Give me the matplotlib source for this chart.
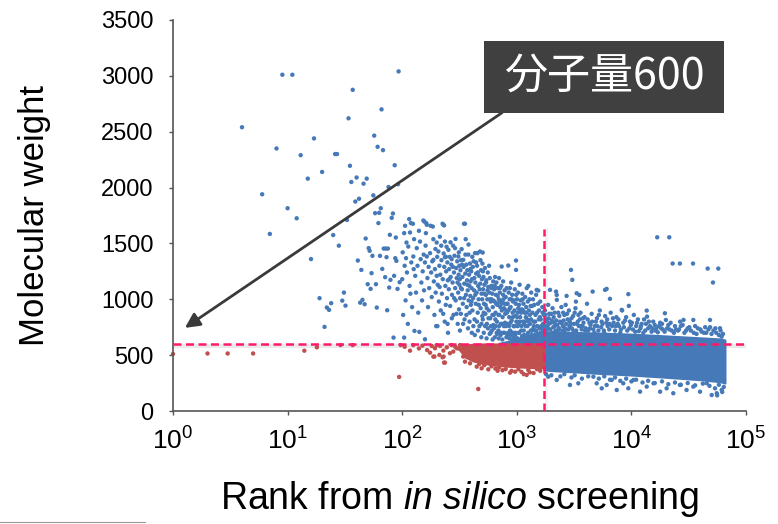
import matplotlib
matplotlib.use("Agg")
import matplotlib.pyplot as plt
from matplotlib.lines import Line2D
from matplotlib.patches import Rectangle
import numpy as np

plt.rcParams['font.family'] = ['Liberation Sans', 'DejaVu Sans']
plt.rcParams['mathtext.fontset'] = 'custom'
plt.rcParams['mathtext.rm'] = 'Liberation Sans'
plt.rcParams['mathtext.it'] = 'Liberation Sans:italic'

# screening cut-offs
rank_cutoff = 1727
mw_cutoff = 600

# (rank, molecular weight) of the compounds that stand out on their own
top_ranked = [
    (1, 510), (2, 515), (3, 515), (4, 2540), (5, 515), (6, 1940), (7, 1585), (8, 2350),
    (9, 3010), (10, 1815), (11, 3010), (12, 1725), (13, 2290), (14, 540), (15, 2080),
    (16, 1360), (17, 2440), (18, 570), (19, 1010), (20, 2140), (21, 753), (22, 926),
    (23, 905), (24, 965), (25, 1575), (26, 2300), (27, 2300), (28, 1480), (29, 590),
    (30, 988), (31, 1060), (32, 943), (33, 1710), (34, 2620), (35, 2195), (36, 2050),
    (37, 2875), (37, 590), (39, 1875), (40, 2090), (41, 1347), (42, 1900), (43, 970),
    (44, 1263), (45, 995), (46, 2035), (47, 956), (48, 1544), (49, 2080), (50, 1135),
    (51, 1458), (52, 1434), (53, 1093), (54, 1234), (55, 1389), (56, 1930), (57, 2465),
    (58, 1771), (59, 1135), (60, 926), (61, 2365), (62, 1682), (63, 1774), (64, 1389),
    (65, 1815), (66, 2700), (67, 1272), (68, 2335), (69, 1454), (71, 1198), (72, 1454),
    (73, 1377), (74, 902), (75, 1454), (76, 2005), (77, 1105), (78, 1577), (79, 1174),
    (81, 1729), (83, 1768), (84, 657), (85, 1210), (86, 2200), (87, 1368), (88, 1553),
    (89, 1344), (91, 1093), (92, 2030), (93, 3040), (94, 305), (95, 1153), (97, 590),
]

# ranks 100 - 1727, MW above 600
upper_cloud = [
    (100, 1180), (101, 1420), (102, 860), (104, 1592), (104, 657), (105, 1300), (106, 1658),
    (107, 990), (108, 1368), (109, 1508), (110, 1240), (112, 780), (113, 1472), (115, 1718),
    (116, 1120), (117, 1598), (118, 1050), (119, 1682), (120, 1330), (122, 930), (124, 1676),
    (125, 1383), (126, 1270),
    (127, 1538), (128, 717), (130, 1210), (132, 1060), (134, 1458), (136, 1300), (138, 880),
    (140, 1613), (141, 708), (143, 1517), (145, 1359), (147, 1150), (149, 990), (151, 1250),
    (153, 1705), (154, 1400), (155, 1080), (156, 1696), (158, 642), (158, 1330),
    (160, 1480), (161, 1592), (162, 1682), (164, 1667), (164, 1383), (166, 1190), (168, 930),
    (170, 1290), (172, 1100), (175, 1413), (177, 1658), (179, 1240), (181, 1020), (183, 1340),
    (185, 1651), (187, 1538), (187, 1353), (189, 1160), (191, 860), (193, 1270), (195, 1450),
    (196, 1060), (198, 760), (200, 1508), (200, 1210),
    (202, 1380), (203, 760), (204, 1130), (207, 1428), (209, 980), (211, 1300), (212, 1110),
    (213, 1560), (215, 1220), (217, 900), (219, 1480), (220, 1350), (222, 1050), (225, 1676),
    (226, 1180), (228, 870), (229, 1667), (230, 1410), (232, 1661), (233, 1290), (235, 800),
    (236, 1517), (236, 1377), (238, 1120), (240, 950), (241, 1380), (242, 1250), (244, 1470),
    (246, 1010), (248, 1330), (249, 780), (250, 1170), (251, 700),
    (253, 1443), (255, 1090), (257, 1270), (258, 1180), (260, 1380), (262, 940), (264, 1510),
    (265, 1200), (268, 1310), (270, 1359), (271, 830), (272, 1040), (275, 1150), (277, 1290),
    (278, 1480), (280, 860), (283, 1240), (284, 1010), (286, 1390), (289, 1458), (290, 1100),
    (292, 1540), (293, 990), (296, 1280), (298, 870), (299, 1190), (302, 1340), (304, 1150),
    (305, 780), (308, 1060), (309, 1383), (311, 1220), (312, 1420), (313, 910), (315, 1300),
    (316, 1130),
    (318, 1180), (319, 720), (320, 1010), (322, 1260), (325, 870), (326, 1100), (327, 1350),
    (330, 1449), (332, 1090), (333, 1310), (335, 1200), (338, 960), (340, 780), (341, 1353),
    (343, 1290), (346, 1676), (347, 1010), (348, 1140), (350, 820), (353, 1676), (355, 1230),
    (356, 1400), (358, 1538), (360, 1040), (362, 1310), (363, 860), (365, 930), (368, 1170),
    (370, 1260), (371, 1130), (373, 1080), (375, 740), (378, 1400), (379, 1490), (380, 990),
    (383, 1220), (386, 1120), (387, 800), (388, 880), (390, 1320), (393, 1030), (394, 1270),
    (395, 1160), (397, 950),
    (400, 1250), (402, 980), (403, 1100), (405, 700), (406, 1180), (409, 1380), (410, 900),
    (413, 1290), (416, 1010), (418, 760), (420, 1340), (424, 1080), (426, 1190), (428, 820),
    (430, 680), (432, 1413), (434, 1040), (435, 1150), (438, 960), (441, 1330), (442, 1230),
    (446, 1060), (449, 800), (450, 1300), (453, 1413), (456, 880), (457, 1240), (458, 720),
    (460, 1120), (464, 1000), (466, 950), (468, 1210), (472, 760), (474, 1090), (477, 1428),
    (480, 1140), (482, 1350), (484, 920), (488, 1260), (490, 660), (491, 780), (492, 1050),
    (496, 1180), (499, 1000), (500, 850), (501, 1320),
    (504, 1418), (505, 820), (506, 1250), (508, 1090), (512, 1200), (514, 880), (515, 700),
    (517, 960), (521, 1050), (522, 1130), (527, 1280), (529, 760), (532, 870), (535, 950),
    (537, 1040), (539, 1150), (542, 1170), (545, 650), (547, 920), (548, 780), (553, 1000),
    (556, 1080), (558, 1240), (560, 740), (564, 1110), (566, 830), (570, 900), (573, 1300),
    (575, 1060), (580, 690), (581, 1190), (584, 1000), (587, 830), (591, 700), (593, 980),
    (595, 760), (599, 1120), (600, 1000), (603, 1100), (605, 720), (611, 1050), (613, 860),
    (615, 640), (617, 930), (621, 990), (623, 1160), (625, 770), (629, 860),
    (632, 740), (635, 1090), (640, 980), (642, 1120), (643, 660), (646, 1200), (650, 820),
    (652, 880), (655, 760), (658, 1040), (661, 960), (664, 1150), (668, 700), (671, 800),
    (673, 690), (677, 950), (681, 1030), (684, 1100), (690, 720), (692, 860), (695, 650),
    (697, 1000), (700, 1190), (702, 760), (704, 860), (705, 980), (711, 1060), (714, 1100),
    (718, 930), (722, 680), (725, 780), (728, 700), (732, 1120), (736, 960), (738, 1293),
    (740, 900), (745, 980), (748, 640), (750, 780), (752, 840), (760, 1040), (760, 1160),
    (763, 1000), (767, 700), (772, 760), (775, 920), (778, 700), (782, 1080), (785, 960),
    (790, 790), (792, 870),
    (800, 1020), (804, 760), (808, 900), (812, 660), (816, 1100), (818, 960), (820, 880),
    (824, 780), (830, 680), (832, 960), (838, 700), (843, 1302), (846, 900), (850, 1060),
    (855, 760), (858, 840), (862, 650), (866, 1000), (870, 920), (870, 1100), (875, 720),
    (880, 790), (884, 930), (890, 680), (893, 1150), (897, 1000), (902, 810), (908, 700),
    (911, 1040), (915, 640), (920, 880), (922, 840), (925, 980), (930, 700), (936, 760),
    (940, 990), (945, 660), (950, 760), (955, 900), (960, 1090), (965, 760), (968, 680),
    (970, 850), (975, 700), (980, 960), (984, 1347), (985, 1263), (988, 1040), (992, 800),
    (998, 650),
    (1005, 1000), (1010, 650), (1012, 840), (1015, 880), (1020, 760), (1025, 1060),
    (1030, 920), (1035, 780), (1040, 700), (1046, 950), (1050, 700), (1058, 1130),
    (1062, 800), (1065, 900), (1070, 840), (1075, 640), (1082, 990), (1088, 880),
    (1094, 720), (1100, 760), (1106, 910), (1110, 670), (1118, 1050), (1125, 1000),
    (1130, 800), (1136, 900), (1143, 960), (1150, 720), (1156, 680), (1160, 780),
    (1169, 880), (1175, 800), (1182, 1020), (1190, 650), (1195, 760), (1200, 840),
    (1208, 930), (1215, 880), (1221, 1100), (1230, 680), (1234, 820), (1240, 760),
    (1247, 980), (1255, 700),
    (1260, 1120), (1265, 800), (1270, 660), (1275, 900), (1290, 1000), (1298, 860),
    (1305, 780), (1310, 640), (1320, 940), (1325, 720), (1330, 820), (1336, 1060),
    (1350, 680), (1352, 720), (1360, 940), (1368, 880), (1385, 1000), (1390, 650),
    (1395, 740), (1402, 800), (1410, 760), (1420, 950), (1430, 720), (1438, 680),
    (1445, 800), (1456, 860), (1470, 660), (1474, 1040), (1480, 720), (1490, 1084),
    (1500, 880), (1510, 760), (1520, 690), (1530, 960), (1540, 1078), (1555, 820),
    (1560, 900), (1570, 650), (1580, 740), (1590, 840), (1600, 980), (1610, 700),
    (1620, 820), (1630, 760), (1645, 700), (1660, 640), (1670, 930), (1680, 880),
    (1690, 720), (1695, 780), (1700, 740), (1710, 680), (1720, 860),
]

# ranks beyond the cut-off, MW above the packed band
upper_tail = [
    (1750, 760), (1760, 900), (1775, 860), (1790, 720), (1800, 820), (1815, 740),
    (1830, 800), (1850, 760), (1870, 740), (1880, 950), (1900, 830), (1910, 780),
    (1920, 870), (1950, 1084), (1960, 730), (1980, 790), (1995, 870), (2020, 810),
    (2050, 920), (2060, 700), (2080, 750), (2100, 840), (2120, 790), (2140, 880),
    (2150, 760), (2180, 720), (2200, 1069), (2210, 810), (2230, 1039), (2235, 995),
    (2260, 770), (2280, 720), (2300, 880), (2330, 740), (2350, 850), (2380, 800),
    (2420, 790), (2450, 930), (2470, 790), (2490, 720), (2520, 760), (2540, 880),
    (2560, 810), (2600, 860), (2620, 720), (2640, 740), (2670, 950), (2700, 780),
    (2720, 1030), (2750, 870), (2780, 820), (2820, 730), (2850, 900), (2880, 760),
    (2900, 800), (2950, 780), (2970, 1263), (3000, 830), (3020, 740), (3050, 1174),
    (3100, 850), (3120, 720), (3150, 780), (3200, 880), (3250, 920), (3280, 979),
    (3300, 720), (3330, 1054), (3350, 780), (3400, 800), (3450, 860), (3480, 760),
    (3510, 1039), (3550, 820), (3600, 880), (3620, 760), (3680, 730), (3750, 760),
    (3780, 830), (3820, 790), (3900, 840), (3950, 720), (4000, 740), (4100, 960),
    (4150, 820), (4200, 720), (4300, 790), (4350, 740), (4400, 770), (4500, 870),
    (4550, 800), (4590, 1069), (4650, 730), (4750, 700), (4800, 760), (4900, 800),
    (5000, 830), (5050, 760), (5150, 720), (5200, 860), (5300, 900), (5450, 750),
    (5500, 800), (5600, 780), (5750, 720), (5800, 700), (5890, 1084), (5900, 850),
    (6050, 790), (6080, 1093), (6150, 820), (6200, 760), (6400, 730), (6450, 780),
    (6500, 1004), (6600, 880), (6800, 760), (6900, 830), (7000, 790), (7200, 720),
    (7300, 760), (7400, 840), (7600, 780), (7700, 820), (7800, 760), (8000, 700),
    (8100, 730), (8230, 905), (8300, 900), (8500, 790), (8600, 750), (8800, 810),
    (9000, 840), (9200, 720), (9400, 1046), (9500, 941), (9600, 740), (9700, 800),
    (9900, 770), (10100, 790), (10300, 730), (10500, 860), (10800, 710), (11000, 760),
    (11200, 790), (11400, 820), (11600, 715), (12000, 740), (12100, 760), (12300, 780),
    (12700, 700), (12900, 820), (13200, 720), (13400, 780), (13600, 899), (13700, 845),
    (14000, 740), (14200, 800), (14500, 760), (15000, 710), (15200, 740), (15500, 800),
    (16000, 770), (16200, 720), (16500, 740), (16800, 1555), (17000, 705), (17400, 760),
    (17800, 790), (18200, 740), (18500, 780), (18800, 730), (19500, 710), (19600, 875),
    (20000, 815), (20500, 740), (21000, 770), (21400, 1555), (21500, 730), (22000, 790),
    (22500, 720), (22900, 1320), (23500, 700), (24000, 760), (24500, 730), (25500, 720),
    (26000, 730), (26500, 1320), (26600, 800), (27000, 760), (28000, 770), (28500, 815),
    (29000, 700), (30000, 720), (31000, 740), (32000, 750), (33000, 720), (34500, 1320),
    (34700, 815), (35000, 700), (36000, 760), (37000, 690), (38000, 740), (40000, 730),
    (41000, 710), (43000, 700), (44000, 750), (45000, 700), (46300, 1275), (47000, 730),
    (48500, 815), (48600, 750), (50000, 690), (51500, 1150), (52000, 720), (54000, 740),
    (55000, 700), (57300, 1275), (58000, 680), (59300, 741), (60000, 720), (61300, 666),
    (63000, 690),
]

# ranks beyond the cut-off, MW below the packed band
lower_tail = [
    (1800, 330), (1880, 307), (2000, 320), (2230, 278), (2400, 310), (2600, 330),
    (2910, 233), (3000, 300), (3200, 320), (3440, 248), (3700, 290), (4200, 310),
    (4660, 307), (4980, 248), (5200, 290), (5510, 203), (5800, 310), (6080, 233),
    (6500, 280), (6730, 278), (7200, 300), (7450, 188), (8000, 270), (8490, 248),
    (9000, 290), (9400, 203), (10000, 265), (10400, 278), (11000, 280), (11900, 173),
    (12500, 255), (13600, 218), (14000, 270), (15600, 248), (16000, 250), (17800, 173),
    (18500, 265), (20300, 203), (21000, 240), (23200, 159), (24000, 255), (26500, 233),
    (27000, 235), (30300, 188), (31000, 250), (34700, 218), (36000, 230), (39700, 173),
    (42000, 245), (45400, 248), (48000, 225), (50200, 143), (53700, 203), (55600, 159),
    (56000, 140), (58000, 235), (61400, 188), (62000, 170), (64000, 215),
]

# ranks below the cut-off, MW below 600
hit_scatter = [
    (105, 575), (117, 540), (125, 590), (140, 560), (150, 585), (165, 545), (175, 522),
    (181, 582), (187, 487), (191, 487), (193, 562), (200, 590), (211, 502), (214, 582),
    (225, 481), (229, 541), (230, 487), (232, 433), (236, 433), (245, 570), (261, 517),
    (270, 590), (279, 532), (290, 575), (299, 562), (310, 560), (320, 590), (330, 547),
    (340, 575), (341, 487), (353, 442), (360, 520), (375, 560), (390, 500), (391, 427),
    (410, 470), (430, 540), (447, 397), (450, 455), (461, 197), (470, 420), (493, 382),
    (520, 410), (564, 373), (600, 400), (650, 380), (680, 360), (700, 390), (750, 365),
    (800, 375), (873, 343), (900, 360), (966, 352), (1033, 373), (1100, 350),
    (1150, 330), (1219, 323), (1259, 367), (1300, 345), (1400, 340), (1500, 375),
    (1600, 360),
]

# packed regions: rank, upper MW, lower MW
band_rank = [1727, 2000, 3000, 5000, 10000, 20000, 40000, 60000, 65500]
band_top = [710, 708, 704, 698, 688, 672, 655, 645, 635]
band_bottom = [368, 362, 352, 338, 322, 302, 280, 262, 250]

hit_band_rank = [316, 355, 417, 501, 631, 794, 1000, 1259, 1727]
hit_band_top = [570, 590, 598, 600, 600, 600, 600, 600, 600]
hit_band_bottom = [548, 482, 448, 428, 412, 402, 396, 390, 385]

cloud_band_rank = [700, 850, 1000, 1200, 1450, 1727]
cloud_band_top = [606, 625, 645, 670, 690, 705]
cloud_band_bottom = [600, 600, 600, 600, 600, 600]

blue = '#4679b8'
red = '#c0504d'
pink = '#ff1a6c'

fig = plt.figure(figsize=(7.78, 5.24), dpi=100)
ax = fig.add_axes([173 / 778, 1 - 411 / 524, 573 / 778, 391 / 524])

pts = np.array(top_ranked + upper_cloud + upper_tail + lower_tail + hit_scatter, dtype=float)
rank, mw = pts[:, 0], pts[:, 1]
is_hit = (rank < rank_cutoff) & (mw < mw_cutoff)
colors = np.where(is_hit, red, blue)

ax.fill_between(band_rank, band_bottom, band_top, color=blue, lw=1.5, zorder=2)
ax.fill_between(cloud_band_rank, cloud_band_bottom, cloud_band_top, color=blue, lw=1.5, zorder=2)
ax.fill_between(hit_band_rank, hit_band_bottom, hit_band_top, color=red, lw=1.5, zorder=2)
ax.scatter(rank, mw, s=10, c=colors, linewidths=0, zorder=2, clip_on=False)

# soft shadow under the cut-off lines
ax.axhline(mw_cutoff - 18, color='#bbbbbb', lw=3, alpha=0.3, zorder=1.5)
ax.plot([rank_cutoff * 1.05] * 2, [0, 1630], color='#cccccc', lw=2, alpha=0.25, zorder=1.5)

ax.axhline(mw_cutoff, color=pink, lw=1.8, dashes=(3.2, 1.8), zorder=3)
ax.plot([rank_cutoff, rank_cutoff], [0, 1630], color=pink, lw=1.8, dashes=(3.2, 1.8), zorder=3)

ax.set_xscale('log')
ax.set_xlim(1, 1e5)
ax.set_ylim(0, 3500)
ax.set_xticks([1, 10, 100, 1000, 10000, 100000])
ax.set_yticks(np.arange(0, 3501, 500))
ax.minorticks_off()

for side in ['top', 'right']:
    ax.spines[side].set_visible(False)
for side in ['left', 'bottom']:
    ax.spines[side].set_color('#555555')
    ax.spines[side].set_linewidth(1.2)

ax.tick_params(axis='y', labelsize=17, length=3, width=1, color='#555555', pad=11)
ax.tick_params(axis='x', labelsize=19, length=3, width=1, color='#555555', pad=9)

ax.set_ylabel('Molecular weight', fontsize=25)
ax.yaxis.set_label_coords(-0.213, 0.5)
ax.set_xlabel(r'Rank from $\mathit{in\ silico}$ screening', fontsize=27)
ax.xaxis.set_label_coords(0.5, -0.175)

# label box with arrow pointing to the cut-off line
ax.annotate('', xy=(1.27, 744), xytext=(743, 2670),
            arrowprops=dict(arrowstyle='-|>', color='#3a3a3a', lw=2, mutation_scale=22,
                            shrinkA=0, shrinkB=0),
            zorder=4)
fig.patches.append(Rectangle((484 / 778, 1 - 113 / 524), 240 / 778, 72 / 524,
                             transform=fig.transFigure, fc='#404040', ec='none', zorder=5))
fig.text(604 / 778, 1 - 77 / 524, '分子量600', color='white', fontsize=31,
         family=['Noto Sans CJK JP', 'DejaVu Sans'], ha='center', va='center', zorder=6)

fig.add_artist(Line2D([0, 145 / 778], [1 - 522 / 524] * 2, color='#999999', lw=0.8))

fig.savefig('out.png', dpi=100)
